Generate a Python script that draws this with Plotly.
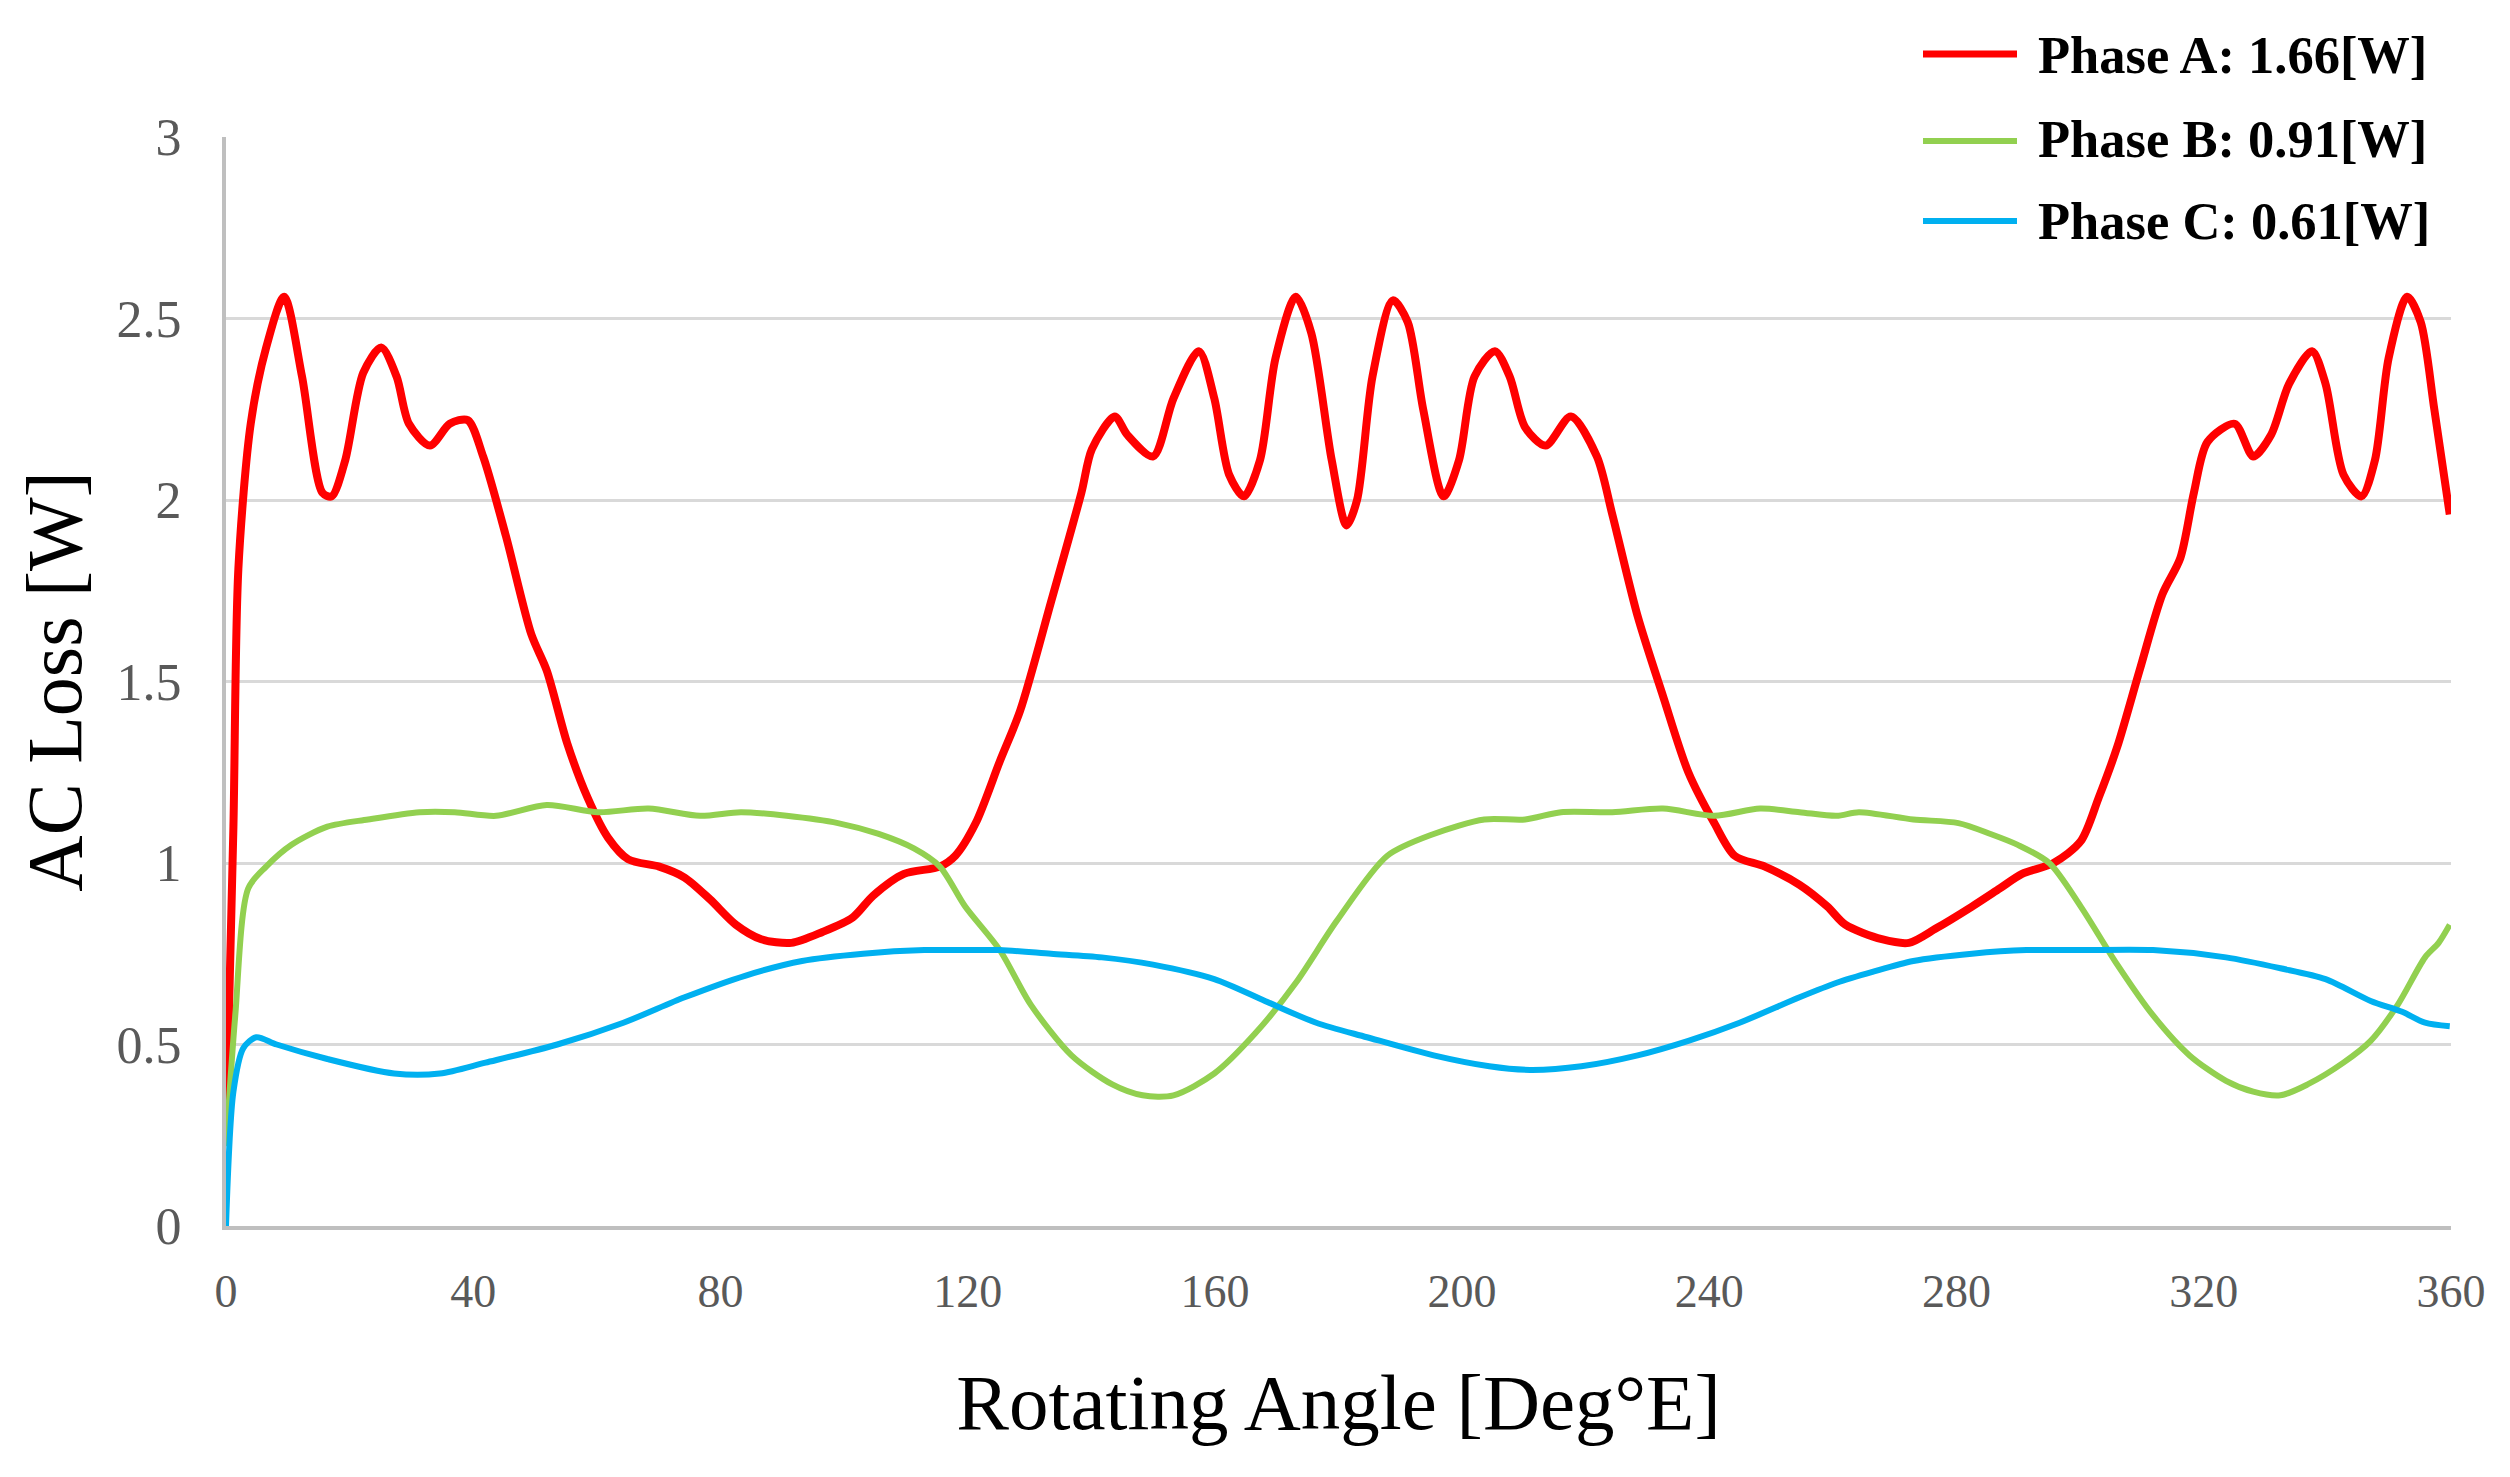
import plotly.graph_objects as go

# ---------------- data ----------------
angle_a = [0, 1.2, 2.0, 4.0, 6.5, 9.4, 12.3, 15.6, 17.1, 19.3, 22.2, 25.1, 27.6, 29.6, 33.0, 36.2, 39.1,
           41.6, 45.3, 49.4, 51.9, 55.2, 58.5, 61.8, 65.1, 70.1, 74.2, 78.3, 82.5, 86.6, 91.5, 96.5,
           101.4, 104.7, 109.7, 115.5, 118.0, 121.3, 125.2, 128.5, 133.5, 138.4, 140.1, 143.8, 145.8,
           150.0, 153.3, 157.4, 159.9, 162.3, 164.7, 167.3, 169.8, 173.1, 175.6, 178.9, 181.3, 183.0,
           185.5, 188.8, 191.2, 193.7, 197.0, 199.5, 202.0, 205.3, 207.7, 210.2, 213.5, 217.6, 221.8,
           224.3, 228.4, 232.5, 236.6, 240.8, 244.1, 249.0, 254.6, 259.1, 262.0, 267.9, 272.3, 276.7,
           282.5, 287.0, 290.6, 295.7, 300.1, 303.0, 306.0, 309.6, 313.3, 316.2, 318.4, 320.6, 325.0,
           328.0, 330.9, 333.8, 337.5, 339.7, 342.6, 345.5, 347.7, 349.9, 352.9, 355.1, 357.3, 359.8]
loss_a = [0.25, 1.10, 1.81, 2.21, 2.42, 2.56, 2.34, 2.02, 2.01, 2.11, 2.35, 2.42, 2.34, 2.21, 2.15, 2.21, 2.22,
          2.12, 1.90, 1.63, 1.53, 1.33, 1.18, 1.07, 1.01, 0.99, 0.96, 0.90, 0.83, 0.79, 0.78, 0.81,
          0.85, 0.91, 0.97, 0.99, 1.02, 1.11, 1.28, 1.42, 1.72, 2.02, 2.14, 2.23, 2.18,
          2.12, 2.28, 2.41, 2.28, 2.07, 2.01, 2.11, 2.39, 2.56, 2.46, 2.11, 1.93, 2.00,
          2.34, 2.55, 2.49, 2.25, 2.01, 2.11, 2.34, 2.41, 2.34, 2.20, 2.15, 2.23, 2.12,
          1.96, 1.68, 1.46, 1.25, 1.11, 1.02, 0.99, 0.94, 0.88, 0.83, 0.79, 0.78, 0.82,
          0.88, 0.93, 0.97, 1.00, 1.06, 1.18, 1.32, 1.53, 1.74, 1.84, 2.02, 2.16, 2.21,
          2.12, 2.18, 2.32, 2.41, 2.32, 2.07, 2.01, 2.11, 2.39, 2.56, 2.49, 2.25, 1.96]

angle_b = [0, 1.5, 3.6, 6.5, 10.6, 16.4, 23.0, 31.3, 37.0, 43.7, 51.9, 60.2, 68.4, 76.7, 83.3, 90.7,
           99.0, 105.6, 111.3, 115.5, 119.6, 125.2, 130.2, 136.8, 143.4, 148.3, 153.3, 159.9, 166.5,
           173.1, 179.7, 187.9, 195.4, 203.6, 210.2, 216.0, 224.3, 232.5, 240.8, 248.2, 254.6, 260.6,
           264.2, 273.0, 280.3, 285.5, 289.9, 295.0, 300.1, 306.0, 311.8, 317.7, 323.6, 328.0, 332.4,
           336.8, 342.6, 347.0, 351.4, 355.8, 358.0, 359.8]
loss_b = [0.22, 0.58, 0.93, 0.99, 1.05, 1.10, 1.12, 1.14, 1.14, 1.13, 1.16, 1.14, 1.15, 1.13, 1.14, 1.13,
          1.11, 1.08, 1.04, 0.99, 0.88, 0.76, 0.61, 0.47, 0.39, 0.36, 0.36, 0.42, 0.53,
          0.67, 0.84, 1.02, 1.08, 1.12, 1.12, 1.14, 1.14, 1.15, 1.13, 1.15, 1.14, 1.13,
          1.14, 1.12, 1.11, 1.08, 1.05, 1.00, 0.88, 0.72, 0.58, 0.47, 0.40, 0.37, 0.36,
          0.39, 0.45, 0.51, 0.61, 0.74, 0.78, 0.83]

angle_c = [0, 1.2, 2.8, 4.9, 8.2, 16.4, 27.2, 34.6, 42.0, 53.6, 64.3, 74.2, 84.1, 93.2, 103.1, 113.0,
           119.6, 125.2, 133.5, 141.7, 150.0, 159.9, 168.1, 176.4, 184.6, 195.4, 204.4, 211.0, 219.3,
           228.4, 236.6, 244.9, 254.6, 260.6, 266.4, 273.0, 282.5, 291.3, 300.1, 311.8, 323.6, 332.4,
           339.7, 347.0, 352.1, 355.8, 359.8]
loss_c = [0.0, 0.37, 0.49, 0.52, 0.50, 0.46, 0.42, 0.42, 0.45, 0.50, 0.56, 0.63, 0.69, 0.73, 0.75, 0.76,
          0.76, 0.76, 0.75, 0.74, 0.72, 0.68, 0.62, 0.56, 0.52, 0.47, 0.44, 0.43, 0.44,
          0.47, 0.51, 0.56, 0.63, 0.67, 0.70, 0.73, 0.75, 0.76, 0.76, 0.76, 0.74, 0.71,
          0.68, 0.62, 0.59, 0.56, 0.55]

series_names = ["Phase A: 1.66[W]", "Phase B: 0.91[W]", "Phase C: 0.61[W]"]
series_colors = ["#FF0000", "#92D050", "#00B0F0"]
series_widths = [8, 6, 6]

x_ticks = [0, 40, 80, 120, 160, 200, 240, 280, 320, 360]
y_ticks = [0, 0.5, 1, 1.5, 2, 2.5, 3]

SERIF = "Liberation Serif, Times New Roman, serif"

# ---------------- layout geometry (pixels) ----------------
W, H = 2510, 1477
ML, MR, MT, MB = 226, 59, 137, 251
PW, PH = W - ML - MR, H - MT - MB


def px_x(px):
    return (px - ML) / PW


def px_y(py):
    return (H - MB - py) / PH


fig = go.Figure()
for i, (xs, ys) in enumerate([(angle_a, loss_a), (angle_b, loss_b), (angle_c, loss_c)]):
    fig.add_trace(go.Scatter(
        x=xs, y=ys, mode="lines", name=series_names[i], showlegend=False,
        line=dict(color=series_colors[i], width=series_widths[i], shape="spline", smoothing=0.8),
    ))

# legend drawn as line samples + text (long sample lines like the original)
legend_line_rows_px = [54, 141, 221]
legend_text_rows_px = [55, 139, 221]
legend_line_widths = [7, 6, 6]
shapes = []
annotations = []
for i in range(3):
    ly = legend_line_rows_px[i]
    shapes.append(dict(type="line", xref="paper", yref="paper",
                       x0=px_x(1923), x1=px_x(2017), y0=px_y(ly), y1=px_y(ly),
                       line=dict(color=series_colors[i], width=legend_line_widths[i])))
    annotations.append(dict(xref="paper", yref="paper", x=px_x(2036), y=px_y(legend_text_rows_px[i]),
                            xanchor="left", yanchor="middle", showarrow=False,
                            text="<b>" + series_names[i] + "</b>",
                            font=dict(family=SERIF, size=52.5, color="#000000")))

fig.update_layout(
    width=W, height=H,
    margin=dict(l=ML, r=MR, t=MT, b=MB, autoexpand=False),
    paper_bgcolor="white", plot_bgcolor="white",
    font=dict(family=SERIF, color="#000000"),
    showlegend=False,
    shapes=shapes, annotations=annotations,
)

fig.update_xaxes(
    range=[0, 360], tickvals=x_ticks, ticktext=[str(v) for v in x_ticks],
    showgrid=False, zeroline=False,
    showline=True, linecolor="#BFBFBF", linewidth=4,
    ticks="", ticklabelstandoff=22,
    tickfont=dict(family=SERIF, size=46, color="#595959"),
    title=dict(text="Rotating Angle [Deg°E]", font=dict(family=SERIF, size=79, color="#000000"), standoff=58),
    automargin=False,
)
fig.update_yaxes(
    range=[0, 3], tickvals=y_ticks, ticktext=["0", "0.5", "1", "1.5", "2", "2.5", "3"],
    showgrid=True, gridcolor="#D9D9D9", gridwidth=3, zeroline=False,
    showline=True, linecolor="#BFBFBF", linewidth=4,
    ticks="", ticklabelstandoff=30,
    tickfont=dict(family=SERIF, size=52, color="#595959"),
    title=dict(text="AC Loss [W]", font=dict(family=SERIF, size=78, color="#000000"), standoff=10),
    automargin=False,
)

fig.write_html("out.html")
